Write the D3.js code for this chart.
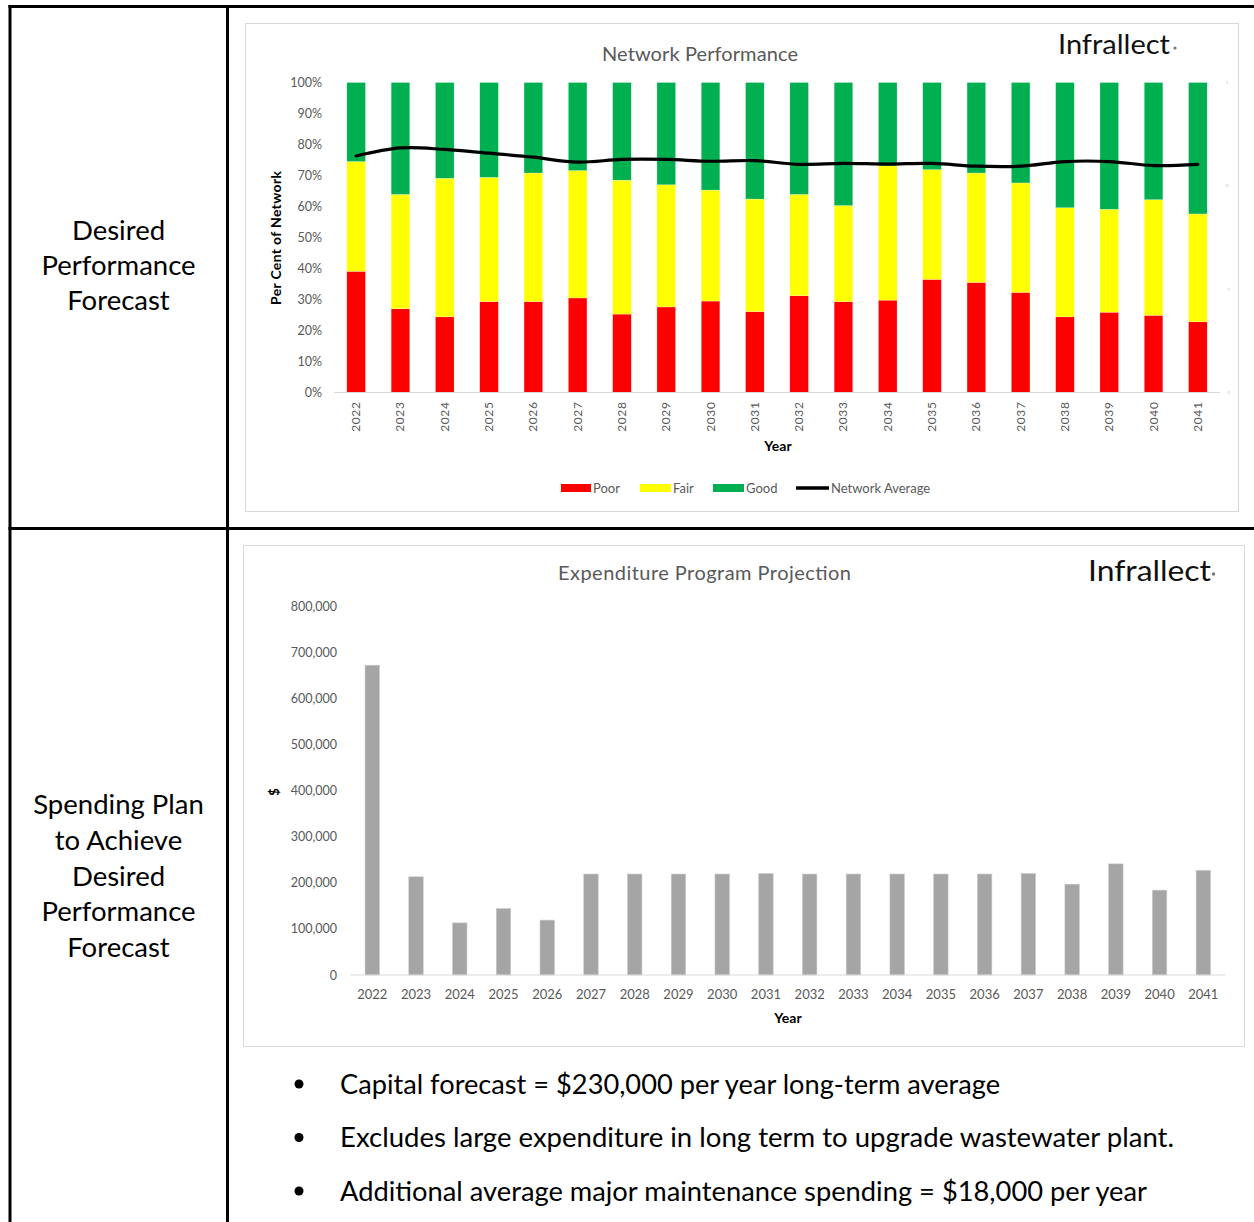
<!DOCTYPE html>
<html>
<head>
<meta charset="utf-8">
<script src="https://cdn.jsdelivr.net/npm/d3@7"></script>
<style>
  html, body { margin: 0; padding: 0; background: #fff; }
  svg { display: block; }
  text { font-family: Lato, "Open Sans", sans-serif; }
</style>
</head>
<body>
<svg id="page" width="1254" height="1222"></svg>
<script>
// ---------- DATA ----------
const years = ["2022","2023","2024","2025","2026","2027","2028","2029","2030","2031",
               "2032","2033","2034","2035","2036","2037","2038","2039","2040","2041"];
const poor = [39.1, 27.0, 24.4, 29.3, 29.3, 30.5, 25.3, 27.6, 29.5, 26.1,
              31.2, 29.3, 29.8, 36.5, 35.5, 32.3, 24.4, 25.9, 24.9, 22.8];
const fair = [35.4, 36.9, 44.7, 40.1, 41.5, 41.1, 43.2, 39.4, 35.8, 36.3,
              32.7, 31.0, 43.3, 35.4, 35.3, 35.3, 35.2, 33.2, 37.3, 34.8];
const good = [25.5, 36.1, 30.9, 30.6, 29.2, 28.4, 31.5, 33.0, 34.7, 37.6,
              36.1, 39.7, 26.9, 28.1, 29.2, 32.4, 40.4, 40.9, 37.8, 42.4];
const networkAverage = [76.3, 78.9, 78.4, 77.2, 75.9, 74.3, 75.2, 75.2, 74.6, 74.8,
                        73.6, 73.9, 73.7, 73.9, 73.0, 73.0, 74.5, 74.5, 73.2, 73.6];
const expenditure = [672000, 213000, 113000, 144000, 119000, 219000, 219000, 219000, 219000, 220000,
                     219000, 219000, 219000, 219000, 219000, 220000, 197000, 241000, 184000, 227000];
const pctTicks = [0, 10, 20, 30, 40, 50, 60, 70, 80, 90, 100];
const dollarTicks = [0, 100000, 200000, 300000, 400000, 500000, 600000, 700000, 800000];
const secondaryTicks = ["1", "0", "-1", "-2"];
const seriesNames = ["Poor", "Fair", "Good"];
const seriesColors = ["#FF0000", "#FFFF00", "#00B050"];
const leftLabels1 = ["Desired", "Performance", "Forecast"];
const leftLabels2 = ["Spending Plan", "to Achieve", "Desired", "Performance", "Forecast"];
const bullets = ["Capital forecast = $230,000 per year long-term average",
                 "Excludes large expenditure in long term to upgrade wastewater plant.",
                 "Additional average major maintenance spending = $18,000 per year"];

// ---------- PAGE ----------
const svg = d3.select("#page");
const gray = "#595959";

// table borders
const tb = svg.append("g").attr("stroke", "#000").attr("stroke-width", 3);
tb.append("line").attr("x1", 8.5).attr("x2", 1254).attr("y1", 6.5).attr("y2", 6.5);
tb.append("line").attr("x1", 10).attr("x2", 10).attr("y1", 5).attr("y2", 1222);
tb.append("line").attr("x1", 227.5).attr("x2", 227.5).attr("y1", 5).attr("y2", 1222);
tb.append("line").attr("x1", 8.5).attr("x2", 1254).attr("y1", 528.5).attr("y2", 528.5);

// left column labels
svg.append("g").selectAll("text").data(leftLabels1).join("text")
  .attr("x", 118.5).attr("y", (d, i) => 240 + i * 35)
  .attr("text-anchor", "middle").attr("font-size", 27.5).attr("fill", "#000").text(d => d);
svg.append("g").selectAll("text").data(leftLabels2).join("text")
  .attr("x", 118.5).attr("y", (d, i) => 814 + i * 35.8)
  .attr("text-anchor", "middle").attr("font-size", 27.5).attr("fill", "#000").text(d => d);

// ---------- TOP CHART ----------
svg.append("rect").attr("x", 245.5).attr("y", 23.5).attr("width", 993).attr("height", 488)
  .attr("fill", "#fff").attr("stroke", "#d9d9d9");

svg.append("text").attr("x", 700).attr("y", 61).attr("text-anchor", "middle")
  .attr("font-size", 20).attr("fill", gray).attr("textLength", 196).text("Network Performance");
svg.append("text").attr("x", 1058).attr("y", 54).attr("font-size", 26).attr("fill", "#111")
  .attr("textLength", 112).attr("lengthAdjust", "spacingAndGlyphs").text("Infrallect");
svg.append("circle").attr("cx", 1175).attr("cy", 48).attr("r", 1.6).attr("fill", "#777");

const x1 = d3.scaleBand().domain(years).range([334, 1220]).paddingInner(0.58).paddingOuter(0.29);
const y1 = d3.scaleLinear().domain([0, 100]).range([392.5, 82.5]);

const stackData = years.map((y, i) => ({ year: y, Poor: poor[i], Fair: fair[i], Good: good[i] }));
const stacked = d3.stack().keys(seriesNames)(stackData);

const gBars = svg.append("g");
stacked.forEach((s, si) => {
  gBars.append("g").attr("fill", seriesColors[si])
    .selectAll("rect").data(s).join("rect")
    .attr("x", d => x1(d.data.year))
    .attr("y", d => y1(d[1]))
    .attr("width", x1.bandwidth())
    .attr("height", d => y1(d[0]) - y1(d[1]))
    .attr("stroke", "#fff").attr("stroke-width", 0.4).attr("stroke-opacity", 0.6);
});

// baseline
svg.append("line").attr("x1", 334).attr("x2", 1220).attr("y1", y1(0)).attr("y2", y1(0))
  .attr("stroke", "#d9d9d9").attr("stroke-width", 1);

// y axis
const ay1 = svg.append("g").attr("transform", "translate(326,0)")
  .call(d3.axisLeft(y1).tickValues(pctTicks).tickSize(0).tickPadding(4).tickFormat(d => d + "%"));
ay1.select(".domain").remove();
ay1.selectAll("text").attr("font-size", 12.5).attr("fill", gray).attr("font-family", "Lato");

// secondary tiny axis
const ySec = d3.scaleLinear().domain([-2, 1]).range([392.5, 82.5]);
svg.append("g").selectAll("text").data(secondaryTicks).join("text")
  .attr("x", 1226).attr("y", d => ySec(+d) + 1.5).attr("font-size", 4).attr("fill", "#bbb").text(d => d);

// x axis rotated
const ax1 = svg.append("g").attr("transform", `translate(0,${y1(0)})`)
  .call(d3.axisBottom(x1).tickSize(0).tickPadding(0));
ax1.select(".domain").remove();
ax1.selectAll("text")
  .attr("font-size", 12).attr("fill", gray).attr("font-family", "Lato")
  .attr("text-anchor", "end").attr("dy", null).attr("y", 0).attr("x", 0)
  .attr("letter-spacing", 0.6)
  .attr("transform", "translate(4,9) rotate(-90)");

svg.append("text").attr("x", 778).attr("y", 451).attr("text-anchor", "middle")
  .attr("font-size", 14).attr("font-weight", "bold").attr("fill", "#000").text("Year");
svg.append("text").attr("transform", "translate(281,238) rotate(-90)").attr("text-anchor", "middle")
  .attr("font-size", 14).attr("font-weight", "bold").attr("fill", "#000")
  .attr("textLength", 134).text("Per Cent of Network");

// network average line
const line = d3.line().x((d, i) => x1(years[i]) + x1.bandwidth() / 2).y(d => y1(d))
  .curve(d3.curveCatmullRom.alpha(0.5));
svg.append("path").datum(networkAverage).attr("d", line)
  .attr("fill", "none").attr("stroke", "#000").attr("stroke-width", 3.2).attr("stroke-linecap", "round");

// legend
const legendItems = [
  { name: "Poor", color: seriesColors[0], x: 561, type: "rect", w: 30 },
  { name: "Fair", color: seriesColors[1], x: 640, type: "rect", w: 31 },
  { name: "Good", color: seriesColors[2], x: 713, type: "rect", w: 31 },
  { name: "Network Average", color: "#000", x: 796, type: "line", w: 33 }
];
const lg = svg.append("g");
legendItems.forEach(it => {
  if (it.type === "rect") {
    lg.append("rect").attr("x", it.x).attr("y", 484).attr("width", it.w).attr("height", 8).attr("fill", it.color);
  } else {
    lg.append("line").attr("x1", it.x).attr("x2", it.x + it.w).attr("y1", 488).attr("y2", 488)
      .attr("stroke", it.color).attr("stroke-width", 3.5);
  }
  lg.append("text").attr("x", it.x + it.w + 2).attr("y", 492.5).attr("font-size", 13)
    .attr("fill", gray).text(it.name);
});

// ---------- BOTTOM CHART ----------
svg.append("rect").attr("x", 243.5).attr("y", 545.5).attr("width", 1001).attr("height", 501)
  .attr("fill", "#fff").attr("stroke", "#d9d9d9");

svg.append("text").attr("x", 704.5).attr("y", 580).attr("text-anchor", "middle")
  .attr("font-size", 20).attr("fill", gray).attr("textLength", 293).text("Expenditure Program Projection");
svg.append("text").attr("x", 1088).attr("y", 580.5).attr("font-size", 28).attr("fill", "#111")
  .attr("textLength", 123).attr("lengthAdjust", "spacingAndGlyphs").text("Infrallect");
svg.append("circle").attr("cx", 1213.5).attr("cy", 574).attr("r", 1.7).attr("fill", "#777");

const x2 = d3.scaleBand().domain(years).range([350.4, 1225.2]).paddingInner(0.67).paddingOuter(0.335);
const y2 = d3.scaleLinear().domain([0, 800000]).range([975, 606.2]);

svg.append("g").selectAll("rect").data(expenditure).join("rect")
  .attr("x", (d, i) => x2(years[i]))
  .attr("y", d => y2(d))
  .attr("width", x2.bandwidth())
  .attr("height", d => y2(0) - y2(d))
  .attr("fill", "#A5A5A5").attr("stroke", "#c8c8c8").attr("stroke-width", 0.6);

svg.append("line").attr("x1", 350.4).attr("x2", 1225.2).attr("y1", y2(0)).attr("y2", y2(0))
  .attr("stroke", "#d9d9d9").attr("stroke-width", 1);

const ay2 = svg.append("g").attr("transform", "translate(341,0)")
  .call(d3.axisLeft(y2).tickValues(dollarTicks).tickSize(0).tickPadding(4).tickFormat(d3.format(",")));
ay2.select(".domain").remove();
ay2.selectAll("text").attr("font-size", 12.5).attr("fill", gray).attr("font-family", "Lato");

const ax2 = svg.append("g").attr("transform", `translate(0,${y2(0)})`)
  .call(d3.axisBottom(x2).tickSize(0).tickPadding(15));
ax2.select(".domain").remove();
ax2.selectAll("text").attr("font-size", 13).attr("fill", gray).attr("font-family", "Lato");

svg.append("text").attr("x", 788).attr("y", 1023).attr("text-anchor", "middle")
  .attr("font-size", 14).attr("font-weight", "bold").attr("fill", "#000").text("Year");
svg.append("text").attr("transform", "translate(279,792) rotate(-90)").attr("text-anchor", "middle")
  .attr("font-size", 13).attr("font-weight", "bold").attr("fill", "#000").text("$");

// ---------- BULLETS ----------
const bulletWidths = [660, 834, 807];
const bg = svg.append("g");
bullets.forEach((b, i) => {
  const yy = 1084 + i * 53.5;
  bg.append("circle").attr("cx", 299).attr("cy", yy).attr("r", 4.5).attr("fill", "#000");
  bg.append("text").attr("x", 340).attr("y", yy + 9.5).attr("font-size", 27).attr("fill", "#000")
    .attr("textLength", bulletWidths[i]).attr("lengthAdjust", "spacingAndGlyphs").text(b);
});
</script>
</body>
</html>
